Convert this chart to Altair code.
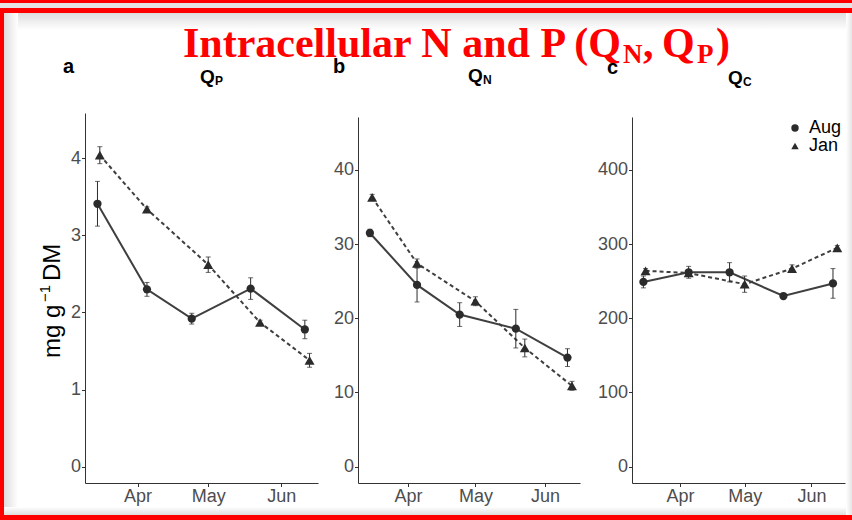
import altair as alt
import pandas as pd

# ---- sampling dates of the two cultures ----
aug_dates = ["2019-03-15", "2019-04-05", "2019-04-24", "2019-05-19", "2019-06-11"]
jan_dates = ["2019-03-16", "2019-04-05", "2019-05-01", "2019-05-23", "2019-06-13"]
series_names = ["Aug", "Jan"]

# ---- intracellular quotas (mean and error) ----
qp_aug = [3.41, 2.30, 1.92, 2.31, 1.78]
qp_aug_err = [0.29, 0.09, 0.07, 0.14, 0.12]
qp_jan = [4.04, 3.34, 2.62, 1.87, 1.38]
qp_jan_err = [0.11, 0.03, 0.10, 0.03, 0.09]

qn_aug = [31.5, 24.5, 20.5, 18.6, 14.7]
qn_aug_err = [0.5, 2.3, 1.6, 2.6, 1.2]
qn_jan = [36.3, 27.4, 22.3, 16.0, 10.9]
qn_jan_err = [0.4, 0.6, 0.6, 1.2, 0.6]

qc_aug = [249, 262, 262, 230, 247]
qc_aug_err = [8, 8, 13, 3, 20]
qc_jan = [264, 261, 246, 267, 295]
qc_jan_err = [3, 4, 11, 5, 3]

qp_ticks = [0, 1, 2, 3, 4]
qn_ticks = [0, 10, 20, 30, 40]
qc_ticks = [0, 100, 200, 300, 400]

INK = "#2b2b2b"
LINE = "#3f3f3f"
PLOT_H = 370
one_row = pd.DataFrame({"k": [0]})


def utc(month, date, hours=0):
    return alt.DateTime(year=2019, month=month, date=date, hours=hours, utc=True)


x_domain = [utc(3, 9, 17), utc(6, 16, 14)]
month_ticks = [utc(4, 1), utc(5, 1), utc(6, 1)]


def frame(aug, aug_err, jan, jan_err):
    rows = []
    for name, dates, vals, errs in (("Aug", aug_dates, aug, aug_err), ("Jan", jan_dates, jan, jan_err)):
        for d, v, e in zip(dates, vals, errs):
            rows.append({"date": d, "value": v, "lo": v - e, "hi": v + e, "series": name})
    return pd.DataFrame(rows)


def text_at(origin, x, y, text, size, font="Liberation Sans", weight="bold",
            color="black", angle=0):
    ox, oy = origin
    return alt.Chart(one_row).mark_text(
        text=text, font=font, fontSize=size, fontWeight=weight, color=color,
        align="left", baseline="alphabetic", angle=angle,
    ).encode(x=alt.value(x - ox), y=alt.value(y - oy))


def block(origin, x0, y0, x1, y1, color):
    ox, oy = origin
    return alt.Chart(one_row).mark_rect(color=color).encode(
        x=alt.value(x0 - ox), x2=alt.value(x1 - ox),
        y=alt.value(y0 - oy), y2=alt.value(y1 - oy),
    )


def fade(c0, c1, horizontal):
    return {
        "gradient": "linear",
        "stops": [{"offset": 0, "color": c0}, {"offset": 1, "color": c1}],
        "x1": 0, "y1": 0, "x2": 1 if horizontal else 0, "y2": 0 if horizontal else 1,
    }


def panel(df, ticks, y_domain, plot_w, width, y_top, legend, decor):
    x = alt.X("date:T", title=None,
              scale=alt.Scale(type="utc", domain=x_domain, range=[0, plot_w]),
              axis=alt.Axis(values=month_ticks,
                            labelExpr="utcFormat(datum.value, '%b')"))
    y_scale = alt.Scale(domain=y_domain, nice=False, zero=False, range=[PLOT_H, y_top])
    y = alt.Y("value:Q", title=None, scale=y_scale, axis=alt.Axis(values=ticks, format="d"))
    base = alt.Chart(df)
    aug = base.transform_filter(alt.datum.series == "Aug")
    jan = base.transform_filter(alt.datum.series == "Jan")
    # solid line for the Aug culture, dashed for Jan
    line_aug = aug.mark_line(color=LINE, strokeWidth=2).encode(x=x, y=y)
    line_jan = jan.mark_line(color=LINE, strokeWidth=2, strokeDash=[4, 3]).encode(x=x, y=y)
    rules = base.mark_rule(color=INK, strokeWidth=1).encode(
        x=x, y=alt.Y("lo:Q", scale=y_scale), y2="hi:Q")
    cap_lo = base.mark_tick(orient="horizontal", size=5, thickness=1, color=INK).encode(
        x=x, y=alt.Y("lo:Q", scale=y_scale))
    cap_hi = base.mark_tick(orient="horizontal", size=5, thickness=1, color=INK).encode(
        x=x, y=alt.Y("hi:Q", scale=y_scale))
    shape = alt.Shape("series:N", legend=legend,
                      scale=alt.Scale(domain=series_names, range=["circle", "triangle-up"]))
    circles = aug.mark_point(filled=True, opacity=1, color=INK, size=68).encode(
        x=x, y=y, shape=shape)
    triangles = jan.mark_point(filled=True, opacity=1, color=INK, size=100).encode(
        x=x, y=y, shape=shape)
    return alt.layer(*decor, line_aug, line_jan, rules, cap_lo, cap_hi,
                     circles, triangles).properties(width=width, height=PLOT_H)


# plot-area origins of the three panels on the page
A = (85, 113)
B = (358, 113)
C = (632, 113)
W, H = 852, 520
RED = "#ff0000"
SHADE = "#dedede"

page = [
    # soft shading along the inside of the frame
    block(A, 4, 13, W, 30, "white").mark_rect(color=fade(SHADE, "#ffffff", False)),
    block(A, 4, 13, 18, 515, "white").mark_rect(color=fade(SHADE, "#ffffff", True)),
    block(A, 4, 507, W, 515, "white").mark_rect(color=fade("#ffffff", SHADE, False)),
    block(A, 846, 13, W, 515, "white").mark_rect(color=fade("#ffffff", "#e6e6e6", True)),
    # red frame
    block(A, 0, 0, W, 3, RED),
    block(A, 0, 3, W, 8, "#e4e4e4"),
    block(A, 0, 8, W, 13, RED),
    block(A, 0, 8, 4, H, RED),
    block(A, 0, 515, W, H, RED),
    # heading
    text_at(A, 183, 57, "Intracellular N and P (Q", 42, font="Liberation Serif", color=RED),
    text_at(A, 623, 63, "N", 27, font="Liberation Serif", color=RED),
    text_at(A, 643, 57, ",", 42, font="Liberation Serif", color=RED),
    text_at(A, 662, 57, "Q", 42, font="Liberation Serif", color=RED),
    text_at(A, 697, 63, "P", 27, font="Liberation Serif", color=RED),
    text_at(A, 716, 57, ")", 42, font="Liberation Serif", color=RED),
    # y-axis title: mg g^-1 DM
    text_at(A, 60, 358, "mg g", 24, weight="normal", angle=270),
    text_at(A, 50, 302, "\u22121", 15, weight="normal", angle=270),
    text_at(A, 60, 281, "DM", 24, weight="normal", angle=270),
    # panel tag and title
    text_at(A, 63, 73, "a", 20),
    text_at(A, 200, 83, "Q", 19),
    text_at(A, 215, 85, "P", 12),
]

decor_b = [
    text_at(B, 333, 73, "b", 20),
    text_at(B, 468, 82, "Q", 19),
    text_at(B, 483, 84, "N", 12),
]
decor_c = [
    text_at(C, 607, 74, "c", 20),
    text_at(C, 728, 84, "Q", 19),
    text_at(C, 743, 86, "C", 12),
]

legend_c = alt.Legend(
    orient="none", legendX=154, legendY=6, title=None, padding=0,
    labelFont="Liberation Sans", labelFontSize=18, labelColor="black", labelOffset=5,
    symbolSize=55, symbolFillColor=INK, symbolStrokeWidth=0, rowPadding=-3,
)

pa = panel(frame(qp_aug, qp_aug_err, qp_jan, qp_jan_err), qp_ticks,
           [-0.211, 4.587], 233, 233, 0, None, page)
pb = panel(frame(qn_aug, qn_aug_err, qn_jan, qn_jan_err), qn_ticks,
           [-2.2, 47.13], 222, 234, 4, None, decor_b)
pc = panel(frame(qc_aug, qc_aug_err, qc_jan, qc_jan_err), qc_ticks,
           [-22, 471.3], 213, 213, 4, legend_c, decor_c)

chart = alt.hconcat(pa, pb, pc, spacing=40, bounds="flush").resolve_scale(
    shape="independent"
).resolve_legend(shape="independent").properties(
    padding=0, background="white"
).configure_view(strokeWidth=0).configure_axis(
    grid=False, domainColor="#333333", domainWidth=1, tickColor="#333333",
    tickSize=3.5, labelPadding=1, labelFont="Liberation Sans", labelFontSize=18,
    labelColor="#4d4d4d", labelFlush=False, labelOverlap=False,
)

chart.save("out.html", embed_options={"renderer": "svg", "actions": False})
